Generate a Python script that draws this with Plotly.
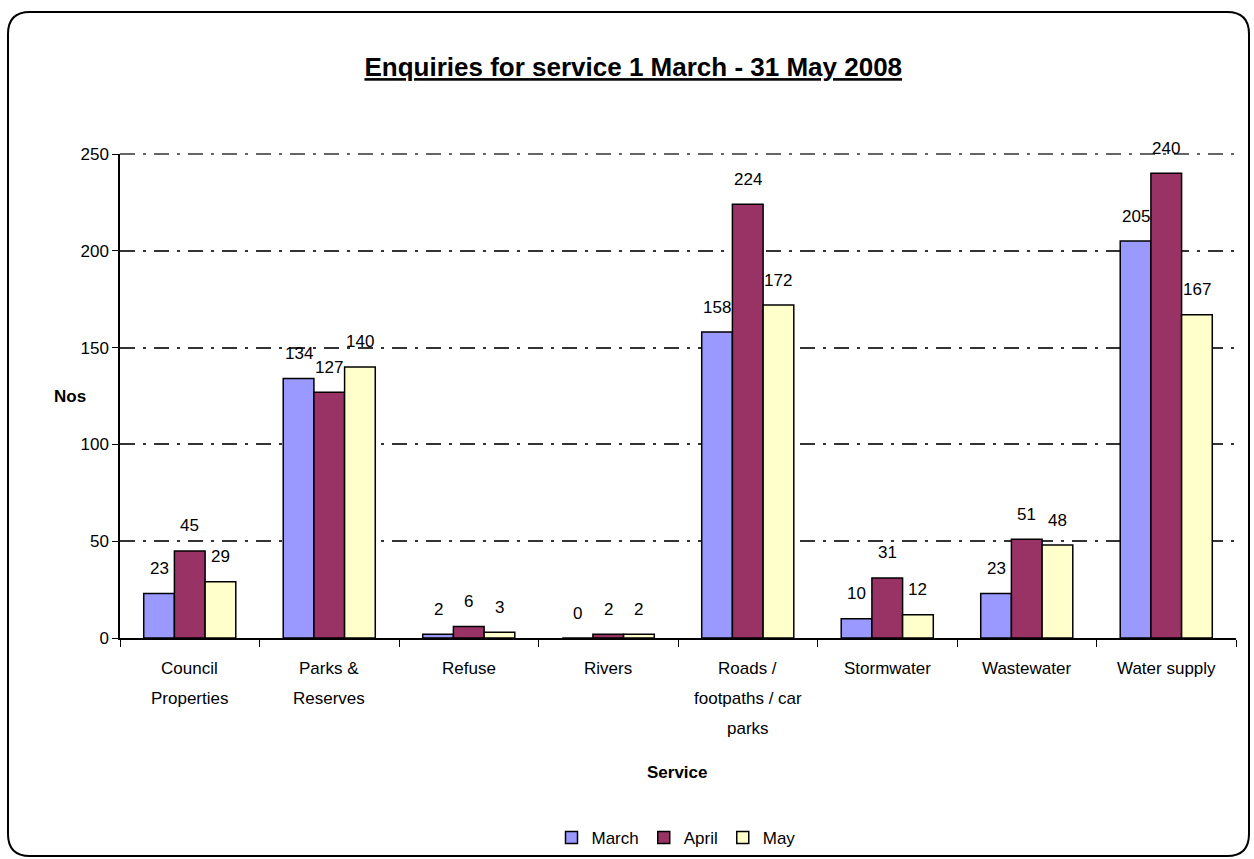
import plotly.graph_objects as go

categories = ["Council<br>Properties", "Parks &<br>Reserves", "Refuse", "Rivers",
              "Roads /<br>footpaths / car<br>parks", "Stormwater", "Wastewater", "Water supply"]
march = [23, 134, 2, 0, 158, 10, 23, 205]
april = [45, 127, 6, 2, 224, 31, 51, 240]
may = [29, 140, 3, 2, 172, 12, 48, 167]
y_ticks = [0, 50, 100, 150, 200, 250]

W, H = 1254, 859
L, R, T, B = 120, 18, 154, 221
pw, ph = W - L - R, H - T - B
FONT = "Liberation Sans, Arial, sans-serif"
BARGAP = 0.34
GRID = dict(color="#333333", width=1.5, dash="15px,8px,3px,8px")

def px(x):
    return (x - L) / pw

def py(y):
    return (H - B - y) / ph

series = [("March", march, "#9999FF"), ("April", april, "#993366"), ("May", may, "#FFFFCC")]
bar_px = pw / len(categories) * (1 - BARGAP) / len(series)

fig = go.Figure()
for i, (name, vals, col) in enumerate(series):
    fig.add_trace(go.Bar(
        name=name, x=categories, y=vals, marker=dict(color=col, line=dict(color="black", width=1.5)),
    ))
    for c, v in zip(categories, vals):
        fig.add_annotation(x=c, y=v, xref="x", yref="y", text=str(v), showarrow=False,
                           xshift=(i - 1) * bar_px, yshift=25, yanchor="middle",
                           font=dict(family=FONT, size=17, color="black"))

# category labels, one line each, with wide line spacing
for c in categories:
    for k, line in enumerate(c.split("<br>")):
        fig.add_annotation(x=c, y=0, xref="x", yref="y", text=line, showarrow=False,
                           yshift=-(30 + 30 * k), yanchor="middle",
                           font=dict(family=FONT, size=17, color="black"))

# top gridline (value 250 = top of the plot area)
fig.add_shape(type="line", xref="paper", yref="paper", x0=0, x1=1, y0=1, y1=1,
              line=GRID, layer="below")

# rounded border
x0, x1, y0, y1 = px(8), px(1249), py(12), py(856)
rx, ry = 22 / pw, 22 / ph
path = (f"M {x0+rx},{y0} L {x1-rx},{y0} Q {x1},{y0} {x1},{y0-ry} "
        f"L {x1},{y1+ry} Q {x1},{y1} {x1-rx},{y1} L {x0+rx},{y1} Q {x0},{y1} {x0},{y1+ry} "
        f"L {x0},{y0-ry} Q {x0},{y0} {x0+rx},{y0} Z")
fig.add_shape(type="path", path=path, xref="paper", yref="paper",
              line=dict(color="black", width=2), layer="below")

fig.add_annotation(text="<b>Nos</b>", x=px(52), y=py(396), xref="paper", yref="paper",
                   showarrow=False, yanchor="middle", font=dict(family=FONT, size=17, color="black"))
fig.add_annotation(text="<b>Service</b>", x=px(677), y=py(772), xref="paper", yref="paper",
                   showarrow=False, yanchor="middle", font=dict(family=FONT, size=17, color="black"))

fig.update_layout(
    width=W, height=H,
    margin=dict(l=L, r=R, t=T, b=B, autoexpand=False),
    paper_bgcolor="white", plot_bgcolor="white",
    barmode="group", bargap=BARGAP, bargroupgap=0,
    font=dict(family=FONT, size=16, color="black"),
    title=dict(text="<u><b>Enquiries for service 1 March - 31 May 2008</b></u>",
               x=0.505, xanchor="center", y=1 - 67 / H, yanchor="middle",
               font=dict(family=FONT, size=26, color="black")),
    showlegend=True,
    legend=dict(orientation="h", x=px(676), xanchor="center", y=py(838), yanchor="middle",
                font=dict(family=FONT, size=17, color="black"), itemwidth=30,
                traceorder="normal", bgcolor="rgba(0,0,0,0)"),
    xaxis=dict(showline=True, linecolor="black", linewidth=1.5, ticks="outside",
               tickson="boundaries", ticklen=7, tickcolor="black", showgrid=False,
               automargin=False, showticklabels=False),
    yaxis=dict(range=[0, 250], tickvals=y_ticks, showline=True, linecolor="black", linewidth=1.5,
               ticks="outside", ticklen=6, tickcolor="black", showgrid=True,
               gridcolor=GRID["color"], gridwidth=GRID["width"], griddash=GRID["dash"],
               zeroline=False, automargin=False,
               tickfont=dict(family=FONT, size=17, color="black")),
)

fig.write_html("out.html")
